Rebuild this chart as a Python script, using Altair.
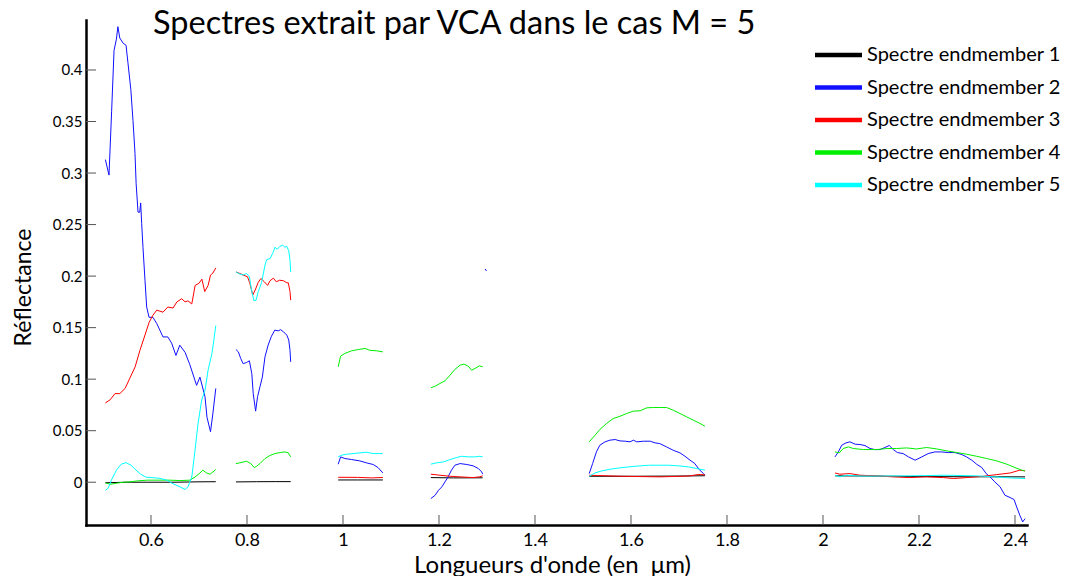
import altair as alt
import pandas as pd

# ---------------- data ----------------
SERIES = ["Spectre endmember 1", "Spectre endmember 2", "Spectre endmember 3",
          "Spectre endmember 4", "Spectre endmember 5"]
COLORS = ["#000000", "#1010ff", "#ff0000", "#00ee00", "#00ffff"]

X_TICKS = [0.6, 0.8, 1.0, 1.2, 1.4, 1.6, 1.8, 2.0, 2.2, 2.4]
Y_TICKS = [0, 0.05, 0.1, 0.15, 0.2, 0.25, 0.3, 0.35, 0.4]

# endmember 1 (black)
E1 = [
    [(0.505, -0.0005), (0.55, 0.0), (0.60, 0.0), (0.65, 0.0), (0.70, 0.0004), (0.735, 0.0005)],
    [(0.777, 0.0003), (0.82, 0.0005), (0.86, 0.0006), (0.891, 0.0006)],
    [(0.990, 0.0022), (1.03, 0.0022), (1.083, 0.0022)],
    [(1.183, 0.0045), (1.23, 0.0042), (1.291, 0.0043)],
    [(1.513, 0.0058), (1.60, 0.0058), (1.70, 0.0060), (1.754, 0.0063)],
    [(2.025, 0.0062), (2.10, 0.0060), (2.20, 0.0055), (2.30, 0.0053), (2.421, 0.0052)],
]

# endmember 2 (blue)
E2 = [
    [(0.505, 0.313), (0.5125, 0.298), (0.518, 0.36), (0.523, 0.419), (0.528, 0.43),
     (0.531, 0.442), (0.535, 0.431), (0.542, 0.426), (0.548, 0.424), (0.552, 0.407),
     (0.558, 0.381), (0.5625, 0.351), (0.5667, 0.319), (0.569, 0.29), (0.573, 0.262),
     (0.5765, 0.262), (0.5785, 0.271), (0.5806, 0.251), (0.5833, 0.228), (0.5875, 0.196),
     (0.591, 0.170), (0.596, 0.160), (0.604, 0.160), (0.612, 0.154), (0.625, 0.141),
     (0.635, 0.141), (0.643, 0.135), (0.652, 0.123), (0.660, 0.133), (0.671, 0.126),
     (0.681, 0.114), (0.695, 0.094), (0.702, 0.102), (0.7125, 0.083), (0.7167, 0.063),
     (0.724, 0.049), (0.729, 0.067), (0.735, 0.091)],
    [(0.777, 0.1288), (0.782, 0.1265), (0.787, 0.120), (0.792, 0.115), (0.799, 0.1162),
     (0.805, 0.1178), (0.810, 0.1055), (0.813, 0.086), (0.818, 0.069), (0.822, 0.083),
     (0.827, 0.0925), (0.832, 0.102), (0.8375, 0.1217), (0.844, 0.133), (0.851, 0.1417),
     (0.858, 0.1476), (0.865, 0.1469), (0.870, 0.148), (0.876, 0.146), (0.883, 0.1427),
     (0.887, 0.138), (0.8896, 0.128), (0.891, 0.1168)],
    [(0.990, 0.0175), (0.995, 0.0246), (1.004, 0.023), (1.018, 0.022), (1.035, 0.0207),
     (1.049, 0.0188), (1.063, 0.0172), (1.073, 0.0142), (1.083, 0.009)],
    [(1.296, 0.207), (1.299, 0.205)],
    [(1.183, -0.0159), (1.192, -0.0126), (1.199, -0.0078), (1.206, -0.0045), (1.2125, 0.0003),
     (1.219, 0.0052), (1.226, 0.0117), (1.233, 0.0165), (1.244, 0.0181), (1.258, 0.0172),
     (1.271, 0.0159), (1.282, 0.0133), (1.289, 0.010), (1.291, 0.0078)],
    [(1.513, 0.0084), (1.520, 0.0181), (1.528, 0.0294), (1.535, 0.0359), (1.546, 0.0392),
     (1.556, 0.0408), (1.567, 0.0414), (1.577, 0.0401), (1.588, 0.0398), (1.598, 0.0392),
     (1.605, 0.0408), (1.612, 0.0392), (1.626, 0.0398), (1.640, 0.0398), (1.650, 0.0382),
     (1.660, 0.0375), (1.674, 0.0343), (1.688, 0.031), (1.702, 0.0285), (1.7125, 0.0252),
     (1.723, 0.0214), (1.733, 0.0181), (1.742, 0.0123), (1.751, 0.0084), (1.754, 0.0068)],
    [(2.025, 0.0246), (2.032, 0.0294), (2.039, 0.0359), (2.048, 0.0382), (2.056, 0.0392),
     (2.067, 0.0369), (2.077, 0.0366), (2.0875, 0.0356), (2.098, 0.0327), (2.108, 0.0317),
     (2.119, 0.0317), (2.129, 0.0337), (2.138, 0.0356), (2.1465, 0.0317), (2.155, 0.0288),
     (2.167, 0.0278), (2.178, 0.0246), (2.192, 0.0214), (2.206, 0.0246), (2.219, 0.0278),
     (2.233, 0.0294), (2.247, 0.0294), (2.261, 0.0288), (2.275, 0.0288), (2.289, 0.0269),
     (2.299, 0.0246), (2.310, 0.0214), (2.320, 0.0175), (2.331, 0.0142), (2.340, 0.0084),
     (2.348, 0.0052), (2.358, 0.0003), (2.369, -0.0045), (2.379, -0.0126), (2.390, -0.0149),
     (2.398, -0.0168), (2.4035, -0.024), (2.410, -0.032), (2.416, -0.0385), (2.421, -0.0353)],
]

# endmember 3 (red)
E3 = [
    [(0.505, 0.077), (0.515, 0.080), (0.525, 0.086), (0.535, 0.086), (0.546, 0.091),
     (0.556, 0.101), (0.567, 0.112), (0.577, 0.128), (0.5855, 0.140), (0.596, 0.155),
     (0.604, 0.162), (0.612, 0.167), (0.625, 0.165), (0.635, 0.170), (0.646, 0.169),
     (0.654, 0.175), (0.664, 0.178), (0.671, 0.175), (0.677, 0.176), (0.685, 0.173),
     (0.692, 0.191), (0.700, 0.193), (0.706, 0.197), (0.712, 0.185), (0.719, 0.191),
     (0.724, 0.201), (0.729, 0.203), (0.735, 0.208)],
    [(0.777, 0.204), (0.785, 0.2026), (0.792, 0.201), (0.801, 0.1994), (0.806, 0.193),
     (0.812, 0.1816), (0.817, 0.1864), (0.8235, 0.194), (0.829, 0.1977), (0.836, 0.1945),
     (0.843, 0.191), (0.848, 0.1955), (0.855, 0.198), (0.861, 0.1945), (0.868, 0.196),
     (0.876, 0.1955), (0.883, 0.1935), (0.886, 0.1935), (0.8896, 0.185), (0.891, 0.1767)],
    [(0.990, 0.0048), (1.03, 0.0047), (1.06, 0.0042), (1.083, 0.0046)],
    [(1.183, 0.0078), (1.202, 0.0068), (1.223, 0.0058), (1.244, 0.0052), (1.271, 0.0045),
     (1.284, 0.0052), (1.291, 0.0062)],
    [(1.513, 0.0068), (1.530, 0.0065), (1.580, 0.0058), (1.660, 0.0052), (1.720, 0.0060),
     (1.740, 0.0075), (1.754, 0.0072)],
    [(2.025, 0.009), (2.035, 0.0078), (2.056, 0.0084), (2.077, 0.0068), (2.112, 0.0062),
     (2.146, 0.0052), (2.181, 0.0045), (2.216, 0.0052), (2.251, 0.0045), (2.272, 0.0036),
     (2.299, 0.0045), (2.334, 0.0058), (2.362, 0.0074), (2.390, 0.009), (2.410, 0.0117),
     (2.421, 0.011)],
]

# endmember 4 (green)
E4 = [
    [(0.505, -0.0007), (0.515, -0.002), (0.528, -0.001), (0.542, 0.0), (0.556, 0.0003),
     (0.5715, 0.0013), (0.592, 0.002), (0.6125, 0.002), (0.6396, 0.002), (0.6604, 0.0016),
     (0.681, 0.002), (0.6917, 0.005), (0.702, 0.009), (0.708, 0.0117), (0.716, 0.009),
     (0.723, 0.0078), (0.729, 0.010), (0.735, 0.0123)],
    [(0.777, 0.0181), (0.785, 0.0188), (0.799, 0.0204), (0.808, 0.0181), (0.815, 0.0142),
     (0.820, 0.0155), (0.827, 0.0181), (0.8375, 0.023), (0.848, 0.026), (0.858, 0.0278),
     (0.869, 0.0288), (0.879, 0.0294), (0.886, 0.0285), (0.891, 0.0246)],
    [(0.990, 0.112), (0.995, 0.1223), (1.004, 0.125), (1.018, 0.1275), (1.032, 0.1288),
     (1.046, 0.1298), (1.056, 0.128), (1.070, 0.1275), (1.083, 0.1265)],
    [(1.183, 0.0916), (1.192, 0.0932), (1.202, 0.0958), (1.2125, 0.0984), (1.223, 0.1039),
     (1.233, 0.1094), (1.244, 0.1136), (1.252, 0.1146), (1.261, 0.1126), (1.268, 0.1087),
     (1.275, 0.1104), (1.284, 0.1129), (1.291, 0.112)],
    [(1.513, 0.0392), (1.525, 0.0456), (1.535, 0.0511), (1.549, 0.057), (1.563, 0.0618),
     (1.577, 0.064), (1.591, 0.0667), (1.605, 0.069), (1.619, 0.0693), (1.633, 0.0722),
     (1.6465, 0.0725), (1.660, 0.0725), (1.674, 0.0725), (1.688, 0.0699), (1.702, 0.0667),
     (1.716, 0.0634), (1.730, 0.0602), (1.744, 0.057), (1.754, 0.0544)],
    [(2.025, 0.0294), (2.034, 0.0285), (2.042, 0.0327), (2.053, 0.0343), (2.063, 0.0327),
     (2.084, 0.0317), (2.112, 0.0317), (2.133, 0.0327), (2.153, 0.0327), (2.174, 0.0333),
     (2.195, 0.0323), (2.216, 0.0337), (2.237, 0.0323), (2.258, 0.0304), (2.279, 0.0288),
     (2.299, 0.0272), (2.320, 0.0252), (2.341, 0.023), (2.362, 0.0207), (2.383, 0.0175),
     (2.400, 0.0142), (2.414, 0.0117), (2.421, 0.011)],
]

# endmember 5 (cyan)
E5 = [
    [(0.505, -0.0078), (0.5105, -0.006), (0.5175, 0.002), (0.528, 0.0117), (0.538, 0.0175),
     (0.548, 0.019), (0.5585, 0.0165), (0.569, 0.0117), (0.5785, 0.0078), (0.589, 0.005),
     (0.602, 0.0045), (0.6167, 0.0039), (0.6334, 0.002), (0.6438, -0.001), (0.6604, -0.0045),
     (0.671, -0.007), (0.677, -0.0045), (0.685, 0.005), (0.6917, 0.031), (0.698, 0.057),
     (0.7057, 0.080), (0.7125, 0.089), (0.719, 0.109), (0.727, 0.125), (0.731, 0.138),
     (0.735, 0.152)],
    [(0.777, 0.204), (0.785, 0.202), (0.792, 0.201), (0.799, 0.2026), (0.805, 0.1994),
     (0.810, 0.185), (0.8146, 0.176), (0.8188, 0.1767), (0.8235, 0.185), (0.8306, 0.194),
     (0.8375, 0.2107), (0.841, 0.216), (0.848, 0.217), (0.8535, 0.222), (0.8583, 0.228),
     (0.8631, 0.226), (0.8688, 0.229), (0.8744, 0.230), (0.879, 0.228), (0.8827, 0.229),
     (0.8869, 0.2246), (0.8896, 0.2155), (0.891, 0.204)],
    [(0.990, 0.0246), (0.997, 0.0262), (1.0075, 0.0272), (1.021, 0.0278), (1.035, 0.0285),
     (1.049, 0.0291), (1.063, 0.0278), (1.083, 0.0278)],
    [(1.183, 0.0175), (1.195, 0.0188), (1.209, 0.0197), (1.223, 0.022), (1.237, 0.024),
     (1.247, 0.0252), (1.261, 0.0246), (1.275, 0.0246), (1.285, 0.0252), (1.291, 0.0246)],
    [(1.513, 0.0058), (1.525, 0.009), (1.539, 0.011), (1.560, 0.0129), (1.581, 0.0142),
     (1.609, 0.0155), (1.6365, 0.0165), (1.6575, 0.0165), (1.678, 0.0165), (1.699, 0.0159),
     (1.720, 0.0149), (1.737, 0.0133), (1.754, 0.0117)],
    [(2.025, 0.0068), (2.035, 0.0052), (2.049, 0.0068), (2.077, 0.006), (2.119, 0.006),
     (2.185, 0.0062), (2.254, 0.0068), (2.320, 0.0062), (2.358, 0.0052), (2.390, 0.0042),
     (2.421, 0.0036)],
]

ALL = [E1, E2, E3, E4, E5]

rows = []
for name, segs in zip(SERIES, ALL):
    for si, seg in enumerate(segs):
        for (xv, yv) in seg:
            rows.append({"serie": name, "seg": f"{name}-{si}", "x": xv, "y": yv})
df = pd.DataFrame(rows)

X_DOM = [0.4646, 2.425]
Y_DOM = [-0.0415, 0.4485]
W, H = 941, 505
FONT = "Lato"

xs = alt.Scale(domain=X_DOM, nice=False, zero=False)
ys = alt.Scale(domain=Y_DOM, nice=False, zero=False)
cs = alt.Scale(domain=SERIES, range=COLORS)

x_axis = alt.Axis(values=X_TICKS, format="~g", tickSize=0, labelPadding=6,
                  labelFontSize=18, labelFont=FONT, labelColor="black",
                  domainColor="black", domainWidth=2.5, domainCap="square", grid=False,
                  title="Longueurs d'onde (en \u00a0\u03bcm)", titleFont=FONT,
                  titleFontSize=24, titleFontWeight="normal", titleColor="black",
                  titleX=466, titleY=47, titleBaseline="alphabetic", titleAlign="center")
y_axis = alt.Axis(values=Y_TICKS, format="~g", tickSize=0, labelPadding=4,
                  labelFontSize=15, labelFont=FONT, labelColor="black",
                  domainColor="black", domainWidth=2.5, domainCap="square", grid=False,
                  title="Réflectance", titleFont=FONT, titleFontSize=23,
                  titleFontWeight="normal", titleColor="black",
                  titleX=-56, titleY=267, titleBaseline="alphabetic", titleAlign="center",
                  titleAngle=270)

lines = alt.Chart(df).mark_line(strokeWidth=1, clip=True).encode(
    x=alt.X("x:Q", scale=xs, axis=x_axis),
    y=alt.Y("y:Q", scale=ys, axis=y_axis),
    color=alt.Color("serie:N", scale=cs, legend=None),
    detail="seg:N",
    order="x:Q",
)

xt = alt.Chart(pd.DataFrame({"t": X_TICKS})).mark_rule(color="#555555", strokeWidth=1).encode(
    x=alt.X("t:Q", scale=xs), y=alt.value(H), y2=alt.value(H - 10))
yt = alt.Chart(pd.DataFrame({"t": Y_TICKS})).mark_rule(color="#555555", strokeWidth=1).encode(
    y=alt.Y("t:Q", scale=ys), x=alt.value(0), x2=alt.value(10))

main = alt.layer(lines, xt, yt)

leg_df = pd.DataFrame({"serie": SERIES, "rank": list(range(len(SERIES)))})
leg_y = alt.Y("rank:Q", scale=alt.Scale(domain=[0, len(SERIES) - 1], range=[35, 165],
                                        nice=False, zero=False), axis=None)
leg_sym = alt.Chart(leg_df).mark_rule(strokeWidth=4.5).encode(
    y=leg_y, x=alt.value(729), x2=alt.value(776),
    color=alt.Color("serie:N", scale=cs, legend=None))
leg_txt = alt.Chart(leg_df).mark_text(align="left", baseline="middle", font=FONT,
                                      fontSize=20, color="black").encode(
    y=leg_y, x=alt.value(781), text="serie:N")

legend = alt.layer(leg_sym, leg_txt)

chart = alt.layer(main, legend).resolve_scale(y="independent").properties(
    width=W, height=H,
    title=alt.TitleParams("Spectres extrait par VCA dans le cas M = 5", font=FONT,
                          fontSize=32.5, fontWeight="normal", color="black",
                          anchor="start", frame="group", dx=67, offset=-46,
                          baseline="alphabetic"),
    autosize=alt.AutoSizeParams(type="none"),
    padding={"left": 78, "top": 12, "right": 39, "bottom": 51},
).configure_view(stroke=None)

chart.save("out.html", embed_options={"renderer": "svg", "actions": False})
